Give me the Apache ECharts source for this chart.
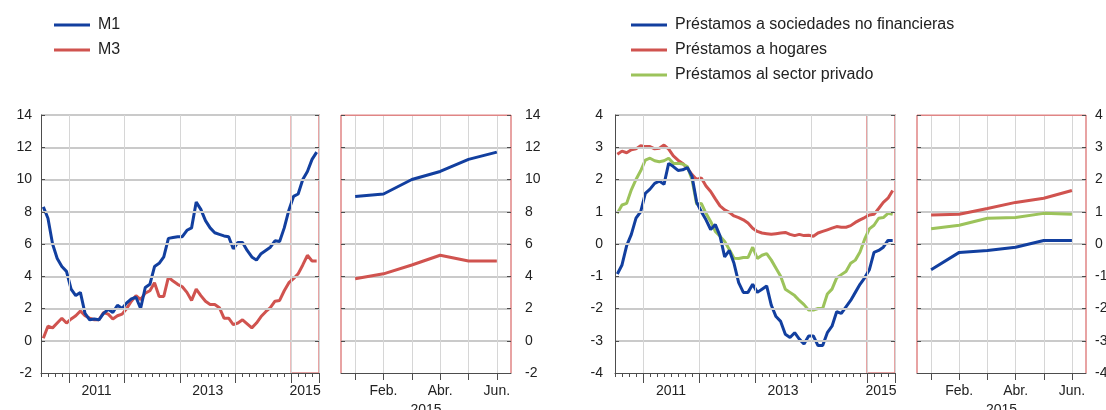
<!DOCTYPE html>
<html>
<head>
<meta charset="utf-8">
<script src="https://cdn.jsdelivr.net/npm/echarts@6/dist/echarts.min.js"></script>
<style>
html, body { margin: 0; padding: 0; background: #fff; }
#chart { width: 1106px; height: 410px; }
</style>
</head>
<body>
<div id="chart"></div>
<script>
// datos mensuales, de julio 2010 a junio 2015
var firstYear = 2010, firstMonth = 6;       // julio (0 = enero)
var yearLabels = ['2011', '2013', '2015'];
var insetMonths = ['Ene.', 'Feb.', 'Mar.', 'Abr.', 'May.', 'Jun.'];
var insetShown = ['Feb.', 'Abr.', 'Jun.'];
var insetYear = '2015';
var leftTicks = [-2, 0, 2, 4, 6, 8, 10, 12, 14];
var rightTicks = [-4, -3, -2, -1, 0, 1, 2, 3, 4];

var m1 = [8.3, 7.6, 6.0, 5.1, 4.6, 4.3, 3.2, 2.8, 3.0, 1.7,
          1.3, 1.35, 1.3, 1.7, 1.95, 1.75, 2.2, 2.0, 2.35, 2.6,
          2.7, 2.0, 3.3, 3.5, 4.6, 4.8, 5.2, 6.35, 6.4, 6.45,
          6.45, 6.85, 7.0, 8.6, 8.15, 7.45, 7.0, 6.7, 6.6, 6.5,
          6.45, 5.7, 6.1, 6.1, 5.6, 5.2, 5.0, 5.4, 5.6, 5.8,
          6.2, 6.15, 7.0, 8.1, 8.95, 9.1, 10.0, 10.5, 11.25, 11.7];
var m3 = [0.15, 0.9, 0.8, 1.1, 1.4, 1.1, 1.35, 1.55, 1.85, 1.55,
          1.4, 1.3, 1.3, 1.75, 1.65, 1.35, 1.55, 1.65, 2.0, 2.45,
          2.8, 2.55, 2.95, 3.1, 3.6, 2.75, 2.75, 3.95, 3.7, 3.5,
          3.35, 3.0, 2.5, 3.2, 2.8, 2.45, 2.25, 2.25, 2.05, 1.4,
          1.4, 1.0, 1.1, 1.3, 1.05, 0.8, 1.1, 1.5, 1.8, 2.05,
          2.45, 2.5, 3.1, 3.6, 3.85, 4.15, 4.7, 5.3, 4.95, 4.95];
var snf = [-0.93, -0.65, -0.05, 0.3, 0.8, 1.0, 1.57, 1.7, 1.88, 1.95,
           1.85, 2.5, 2.4, 2.28, 2.3, 2.37, 2.1, 1.3, 1.0, 0.75,
           0.45, 0.6, 0.25, -0.4, -0.2, -0.6, -1.2, -1.5, -1.5, -1.25,
           -1.5, -1.4, -1.3, -1.9, -2.25, -2.4, -2.8, -2.9, -2.75, -2.95,
           -3.1, -2.85, -2.85, -3.15, -3.15, -2.75, -2.55, -2.1, -2.15, -1.95,
           -1.75, -1.5, -1.25, -1.05, -0.8, -0.26, -0.2, -0.1, 0.11, 0.11];
var hog = [2.78, 2.88, 2.83, 2.92, 2.95, 3.05, 3.02, 3.02, 2.95, 2.97,
           3.07, 2.94, 2.73, 2.6, 2.5, 2.35, 2.15, 2.0, 2.05, 1.8,
           1.63, 1.4, 1.18, 1.06, 0.98, 0.87, 0.82, 0.75, 0.65, 0.49,
           0.39, 0.34, 0.32, 0.3, 0.32, 0.34, 0.36, 0.3, 0.26, 0.3,
           0.26, 0.27, 0.24, 0.34, 0.39, 0.44, 0.49, 0.54, 0.52, 0.52,
           0.57, 0.67, 0.75, 0.82, 0.9, 0.92, 1.1, 1.29, 1.42, 1.66];
var priv = [0.95, 1.21, 1.26, 1.68, 2.0, 2.27, 2.6, 2.66, 2.58, 2.55,
            2.58, 2.66, 2.5, 2.5, 2.48, 2.4, 2.0, 1.23, 1.26, 0.95,
            0.7, 0.39, 0.24, 0.08, -0.17, -0.44, -0.45, -0.42, -0.42, -0.1,
            -0.45, -0.35, -0.3, -0.5, -0.75, -1.0, -1.4, -1.5, -1.6, -1.75,
            -1.88, -2.05, -2.05, -2.0, -2.0, -1.55, -1.4, -1.05, -0.95, -0.85,
            -0.6, -0.5, -0.25, 0.15, 0.47, 0.58, 0.8, 0.82, 0.95, 0.92];

var BLUE = '#123f9f', RED = '#d0534f', GREEN = '#9cc35b';
var AXIS = '#4d4d4d', GRIDH = '#cacaca', GRIDV = '#d6d6d6', FRAME = '#e08585', TEXT = '#222';
var FONT = 'Liberation Sans';

var nMonths = m1.length;
var nBands = nMonths / 1.5;                 // marcas cada mes y medio
var bands = [];
for (var b = 0; b < nBands; b++) bands.push(b);
var nInset = insetMonths.length;
var hlStart = nMonths - nInset;

function isYearStart(i) { return (i * 1.5 + firstMonth) % 12 === 0; }
function yearLabelAt(v) {
    for (var k = 0; k < yearLabels.length; k++) {
        var s = (+yearLabels[k] - firstYear) * 12 - firstMonth;
        var c = (Math.max(0, s) + Math.min(nMonths, s + 12)) / 2;
        if (v === c) return yearLabels[k];
    }
    return '';
}
function xy(arr) { return arr.map(function (v, i) { return [i + 0.5, v]; }); }

var labelStyle = { fontSize: 14, color: TEXT, fontFamily: FONT };

function mainXAxes(g) {
    return [
        { type: 'value', gridIndex: g, position: 'bottom', min: 0, max: nMonths, interval: 1, z: 10,
          axisLine: { show: false, onZero: false }, axisTick: { show: false }, splitLine: { show: false },
          axisLabel: Object.assign({ margin: 11, formatter: yearLabelAt }, labelStyle) },
        { type: 'category', gridIndex: g, position: 'bottom', data: bands, boundaryGap: true, z: 10,
          axisLine: { show: true, onZero: false, lineStyle: { color: AXIS, width: 1 } },
          axisTick: { show: true, interval: 0, length: 4, lineStyle: { color: AXIS, width: 1 } },
          splitLine: { show: true, interval: function (i) { return isYearStart(i); }, lineStyle: { color: GRIDV, width: 1 } },
          axisLabel: { show: false } },
        { type: 'category', gridIndex: g, position: 'bottom', data: bands, boundaryGap: true, z: 10,
          axisLine: { show: false, onZero: false },
          axisTick: { show: true, interval: function (i) { return isYearStart(i); }, length: 10, lineStyle: { color: AXIS, width: 1 } },
          splitLine: { show: false }, axisLabel: { show: false } }
    ];
}
function insetXAxes(g) {
    return [
        { type: 'category', gridIndex: g, position: 'bottom', data: insetMonths, boundaryGap: true, z: 10,
          axisLine: { show: true, onZero: false, lineStyle: { color: AXIS, width: 1 } },
          axisTick: { show: true, alignWithLabel: true, interval: 0, length: 7, lineStyle: { color: AXIS, width: 1 } },
          splitLine: { show: false },
          axisLabel: Object.assign({ margin: 11, interval: function (i) { return insetShown.indexOf(insetMonths[i]) >= 0; } }, labelStyle),
          name: insetYear, nameLocation: 'middle', nameGap: 27, nameTextStyle: labelStyle },
        // eje auxiliar (oculto) para rejilla y marco
        { type: 'value', gridIndex: g, position: 'bottom', min: 0, max: nInset, show: false }
    ];
}
function yAxes(g, ticks, labelPos, margin, main) {
    var lo = ticks[0], hi = ticks[ticks.length - 1], step = ticks[1] - ticks[0];
    var tick = { show: true, inside: true, length: 4, lineStyle: { color: AXIS, width: 1 } };
    return [
        { type: 'value', gridIndex: g, position: labelPos, z: 10, min: lo, max: hi, interval: step,
          axisLine: { show: main, onZero: false, lineStyle: { color: AXIS, width: 1 } },
          axisTick: tick, axisLabel: Object.assign({ margin: margin }, labelStyle),
          splitLine: { show: main, showMinLine: false, lineStyle: { color: GRIDH, width: 2 } } },
        { type: 'value', gridIndex: g, position: labelPos === 'left' ? 'right' : 'left', z: 10, min: lo, max: hi, interval: step,
          axisLine: { show: false, onZero: false }, axisTick: tick, axisLabel: { show: false }, splitLine: { show: false } }
    ];
}
function highlight(ticks) {
    return {
        silent: true,
        itemStyle: { color: 'rgba(0,0,0,0)', borderColor: FRAME, borderWidth: 1.5 },
        data: [[{ xAxis: hlStart, yAxis: ticks[0] }, { xAxis: nMonths, yAxis: ticks[ticks.length - 1] }]]
    };
}
// rejilla y marco de los recuadros como serie de segmentos
function insetGrid(xi, yi, ticks) {
    var lo = ticks[0], hi = ticks[ticks.length - 1];
    var segs = ticks.slice(1, -1).map(function (t) {
        return { coords: [[0, t], [nInset, t]], lineStyle: { color: GRIDH, width: 2 } };
    });
    for (var i = 0; i < nInset; i++) segs.push({ coords: [[i + 0.5, lo], [i + 0.5, hi]], lineStyle: { color: GRIDV, width: 1 } });
    segs.push({ coords: [[0, lo], [0, hi]], lineStyle: { color: FRAME, width: 1.5 } });
    segs.push({ coords: [[nInset, lo], [nInset, hi]], lineStyle: { color: FRAME, width: 1.5 } });
    segs.push({ coords: [[0, hi], [nInset, hi]], lineStyle: { color: FRAME, width: 2 } });
    return {
        type: 'lines', coordinateSystem: 'cartesian2d', xAxisIndex: xi, yAxisIndex: yi,
        z: 1, silent: true, animation: false, polyline: false,
        lineStyle: { width: 1, opacity: 1, curveness: 0 },
        data: segs
    };
}
function line(name, color, data, xi, yi, extra) {
    return Object.assign({
        name: name, type: 'line', xAxisIndex: xi, yAxisIndex: yi, data: data,
        symbol: 'none', color: color, lineStyle: { color: color, width: 3 }, z: 3
    }, extra || {});
}

var chart = echarts.init(document.getElementById('chart'));
var legendBase = {
    orient: 'vertical', top: 12, itemWidth: 36, itemHeight: 3, itemGap: 9, icon: 'rect',
    itemStyle: { borderWidth: 0 }, selectedMode: false,
    textStyle: { fontSize: 16, color: TEXT, fontFamily: FONT, padding: [0, 0, 0, 3] }
};
var gridBase = { top: 115, height: 258, outerBoundsMode: 'none', containLabel: false };

chart.setOption({
    animation: false,
    backgroundColor: '#fff',
    legend: [
        Object.assign({ left: 49, data: ['M1', 'M3'] }, legendBase),
        Object.assign({ left: 626, data: ['Préstamos a sociedades no financieras', 'Préstamos a hogares', 'Préstamos al sector privado'] }, legendBase)
    ],
    grid: [
        Object.assign({ left: 41, width: 278 }, gridBase),
        Object.assign({ left: 341, width: 170 }, gridBase),
        Object.assign({ left: 615, width: 280 }, gridBase),
        Object.assign({ left: 917, width: 169 }, gridBase)
    ],
    xAxis: [].concat(mainXAxes(0), insetXAxes(1), mainXAxes(2), insetXAxes(3)),
    yAxis: [].concat(yAxes(0, leftTicks, 'left', 9, true), yAxes(1, leftTicks, 'right', 14, false),
                     yAxes(2, rightTicks, 'left', 12, true), yAxes(3, rightTicks, 'right', 9, false)),
    series: [
        insetGrid(4, 2, leftTicks),
        insetGrid(9, 6, rightTicks),
        line('M3', RED, xy(m3), 0, 0, { markArea: highlight(leftTicks) }),
        line('M1', BLUE, xy(m1), 0, 0),
        line('M3', RED, m3.slice(hlStart), 3, 2),
        line('M1', BLUE, m1.slice(hlStart), 3, 2),
        line('Préstamos a hogares', RED, xy(hog), 5, 4, { markArea: highlight(rightTicks) }),
        line('Préstamos al sector privado', GREEN, xy(priv), 5, 4),
        line('Préstamos a sociedades no financieras', BLUE, xy(snf), 5, 4),
        line('Préstamos a hogares', RED, hog.slice(hlStart), 8, 6),
        line('Préstamos al sector privado', GREEN, priv.slice(hlStart), 8, 6),
        line('Préstamos a sociedades no financieras', BLUE, snf.slice(hlStart), 8, 6)
    ]
});
</script>
</body>
</html>
